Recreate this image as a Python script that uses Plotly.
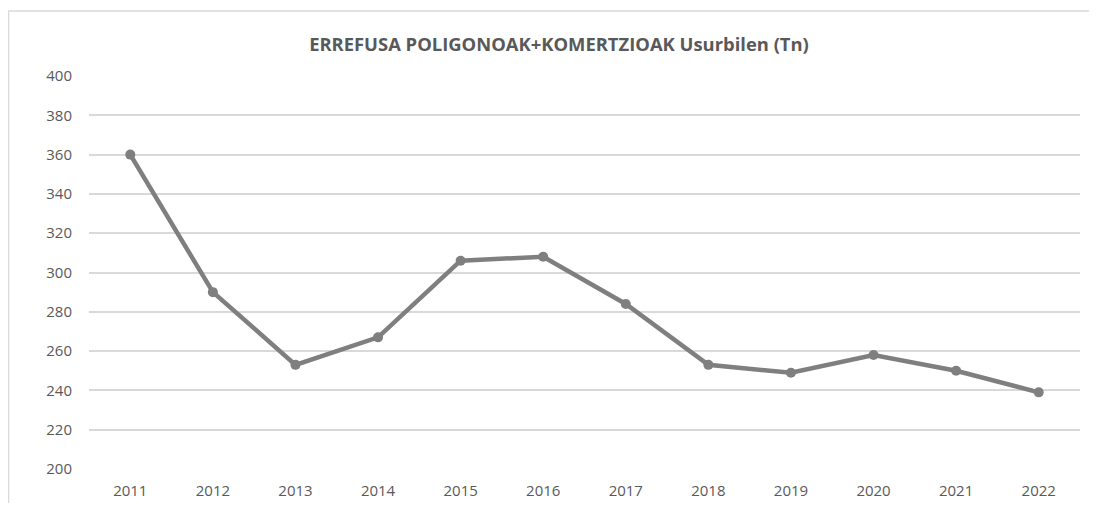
import plotly.graph_objects as go

years = ["2011", "2012", "2013", "2014", "2015", "2016", "2017", "2018", "2019", "2020", "2021", "2022"]
values = [360, 290, 253, 267, 306, 308, 284, 253, 249, 258, 250, 239]
title_text = "ERREFUSA POLIGONOAK+KOMERTZIOAK Usurbilen (Tn)"

# page has an 8px body margin; figure coords = screen coords - 8
W, H = 1089, 495
L, R, T = 81, 17, 68
B = H - 461
pw, ph = W - L - R, H - T - B

fig = go.Figure()
fig.add_trace(go.Scatter(
    x=years, y=values, mode="lines+markers",
    line=dict(color="#7f7f7f", width=4.5),
    marker=dict(color="#7f7f7f", size=10),
    hoverinfo="x+y",
))

fig.update_layout(
    width=W, height=H,
    margin=dict(l=L, r=R, t=T, b=B, autoexpand=False),
    paper_bgcolor="white", plot_bgcolor="white",
    showlegend=False,
    font=dict(family="Open Sans, Liberation Sans, sans-serif", color="#595959", size=15),
    title=dict(text="<b>" + title_text + "</b>", x=551 / W, xanchor="center",
               y=1 - 37 / H, yanchor="middle",
               font=dict(size=18.4, color="#595959")),
    xaxis=dict(type="category", range=[-0.5, len(years) - 0.5],
               showgrid=False, showline=False, zeroline=False,
               automargin=False,
               ticks="", tickfont=dict(size=15, color="#595959"), ticklabelstandoff=11),
    yaxis=dict(range=[200, 400], dtick=20, showgrid=True, gridcolor="#d9d9d9",
               automargin=False,
               gridwidth=1.5, zeroline=False, showline=False, ticks="",
               tickfont=dict(size=15, color="#595959"), ticklabelstandoff=16),
    shapes=[dict(type="rect", xref="paper", yref="paper",
                 x0=(0.5 - L) / pw, x1=(W + 5 - L) / pw,
                 y0=-0.3, y1=(H - B - 3) / ph,
                 line=dict(color="#d9d9d9", width=1.5), layer="below")],
)

fig.write_html("out.html")
